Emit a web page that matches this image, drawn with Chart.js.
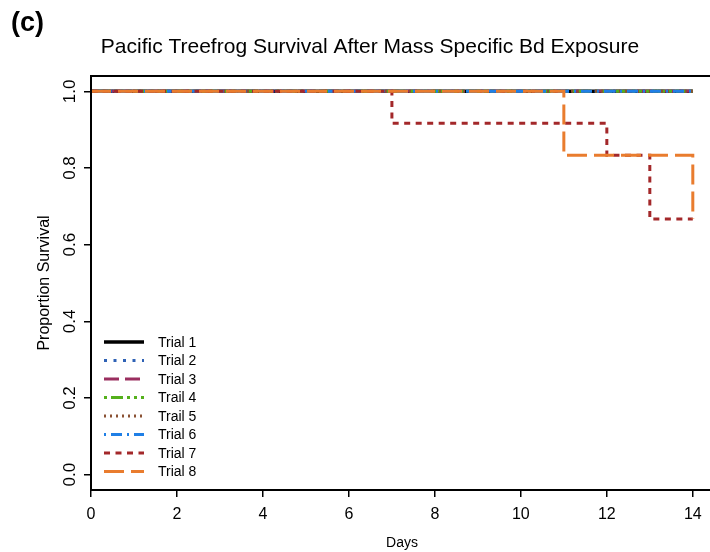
<!DOCTYPE html>
<html>
<head>
<meta charset="UTF-8" />
<title>Pacific Treefrog Survival</title>
<style>
  html, body { margin: 0; padding: 0; background: #fff; }
  #wrap { width: 710px; height: 552px; }
</style>
<script src="https://cdn.jsdelivr.net/npm/chart.js"></script>
</head>
<body>
<div id="wrap"><canvas id="chart" width="710" height="552"></canvas></div>
<script>
// data (Kaplan-Meier style step curves)
const trialNames = ["Trial 1", "Trial 2", "Trial 3", "Trail 4", "Trail 5", "Trial 6", "Trial 7", "Trial 8"];
const trial1Days = [0, 14], trial1Surv = [1, 1];
const trial2Days = [0, 14], trial2Surv = [1, 1];
const trial3Days = [0, 14], trial3Surv = [1, 1];
const trial4Days = [0, 14], trial4Surv = [1, 1];
const trial5Days = [0, 14], trial5Surv = [1, 1];
const trial6Days = [0, 14], trial6Surv = [1, 1];
const trial7Days = [0, 7, 12, 13, 14], trial7Surv = [1, 0.917, 0.833, 0.667, 0.667];
const trial8Days = [0, 11, 14], trial8Surv = [1, 0.833, 0.667];
const xTicks = [0, 2, 4, 6, 8, 10, 12, 14];
const yTicks = [0, 0.2, 0.4, 0.6, 0.8, 1.0];

const allDays = [trial1Days, trial2Days, trial3Days, trial4Days, trial5Days, trial6Days, trial7Days, trial8Days];
const allSurv = [trial1Surv, trial2Surv, trial3Surv, trial4Surv, trial5Surv, trial6Surv, trial7Surv, trial8Surv];

// styles
const colors = ["#000000", "#2f62b5", "#9a2e5f", "#54b01c", "#8a5133", "#1f7fe6", "#a3282a", "#e97c2e"];
const dashes = [[], [3, 6.5], [15, 6], [3, 4, 12, 4, 3, 4, 3, 4], [2, 4], [2, 5, 11, 5], [6, 5.5], [20, 7]];
const widths = [3.5, 3, 3, 3, 3, 3, 3, 3];
const FONT = "'Liberation Sans', Arial, Helvetica, sans-serif";

const datasets = trialNames.map((name, i) => ({
  label: name,
  data: allDays[i].map((d, k) => ({ x: d, y: allSurv[i][k] })),
  borderColor: colors[i],
  borderDash: dashes[i],
  borderWidth: widths[i],
  borderCapStyle: "butt",
  pointRadius: 0,
  stepped: "before",
  fill: false,
  order: trialNames.length - i
}));

const decor = {
  id: "decor",
  afterDraw(chart) {
    const ctx = chart.ctx;
    const a = chart.chartArea;
    const ys = chart.scales.y;
    ctx.save();
    // box (right side is off the picture)
    ctx.strokeStyle = "#000";
    ctx.lineWidth = 2;
    ctx.beginPath();
    ctx.moveTo(a.right + 2, a.top);
    ctx.lineTo(a.left, a.top);
    ctx.lineTo(a.left, a.bottom);
    ctx.lineTo(a.right + 2, a.bottom);
    ctx.stroke();

    ctx.fillStyle = "#000";
    // panel letter
    ctx.font = "bold 27px " + FONT;
    ctx.textAlign = "left";
    ctx.textBaseline = "alphabetic";
    ctx.fillText("(c)", 11, 31);
    // title
    ctx.font = "21px " + FONT;
    ctx.textAlign = "center";
    ctx.fillText("Pacific Treefrog Survival After Mass Specific Bd Exposure", 370, 53);
    // x title
    ctx.font = "14px " + FONT;
    ctx.fillText("Days", 402, 547);

    // rotated y tick labels
    ctx.font = "17px " + FONT;
    ctx.textBaseline = "middle";
    yTicks.forEach(v => {
      const py = ys.getPixelForValue(v);
      ctx.save();
      ctx.translate(70, py);
      ctx.rotate(-Math.PI / 2);
      ctx.fillText(v.toFixed(1), 0, 0);
      ctx.restore();
    });
    // y title
    ctx.font = "16px " + FONT;
    ctx.save();
    ctx.translate(45, (a.top + a.bottom) / 2);
    ctx.rotate(-Math.PI / 2);
    ctx.fillText("Proportion Survival", 0, 0);
    ctx.restore();

    // legend
    ctx.font = "14px " + FONT;
    ctx.textAlign = "left";
    ctx.textBaseline = "middle";
    chart.data.datasets.forEach((ds, i) => {
      const y = 342 + i * 18.5;
      ctx.save();
      ctx.strokeStyle = ds.borderColor;
      ctx.lineWidth = ds.borderWidth;
      ctx.setLineDash(ds.borderDash);
      ctx.lineCap = "butt";
      ctx.beginPath();
      ctx.moveTo(104, y);
      ctx.lineTo(144, y);
      ctx.stroke();
      ctx.restore();
      ctx.fillStyle = "#000";
      ctx.fillText(ds.label, 158, y + 1);
    });
    ctx.restore();
  }
};

new Chart(document.getElementById("chart"), {
  type: "line",
  data: { datasets: datasets },
  options: {
    responsive: false,
    animation: false,
    devicePixelRatio: 1,
    layout: { padding: { top: 76, left: 0, right: 0, bottom: 0 } },
    plugins: { legend: { display: false }, tooltip: { enabled: false } },
    scales: {
      x: {
        type: "linear",
        min: 0,
        max: 14.4,
        afterBuildTicks: s => { s.ticks = xTicks.map(v => ({ value: v })); },
        afterFit: s => { s.height = 62; },
        border: { display: false },
        grid: { drawOnChartArea: false, tickLength: 7, color: "#000", lineWidth: 1.5 },
        ticks: { color: "#000", font: { family: FONT, size: 16 }, padding: 8, maxRotation: 0, autoSkip: false }
      },
      y: {
        type: "linear",
        min: -0.04,
        max: 1.04,
        afterBuildTicks: s => { s.ticks = yTicks.map(v => ({ value: v })); },
        afterFit: s => { s.width = 91; },
        border: { display: false },
        grid: { drawOnChartArea: false, tickLength: 7, color: "#000", lineWidth: 1.5 },
        ticks: { display: false }
      }
    }
  },
  plugins: [decor]
});
</script>
</body>
</html>
